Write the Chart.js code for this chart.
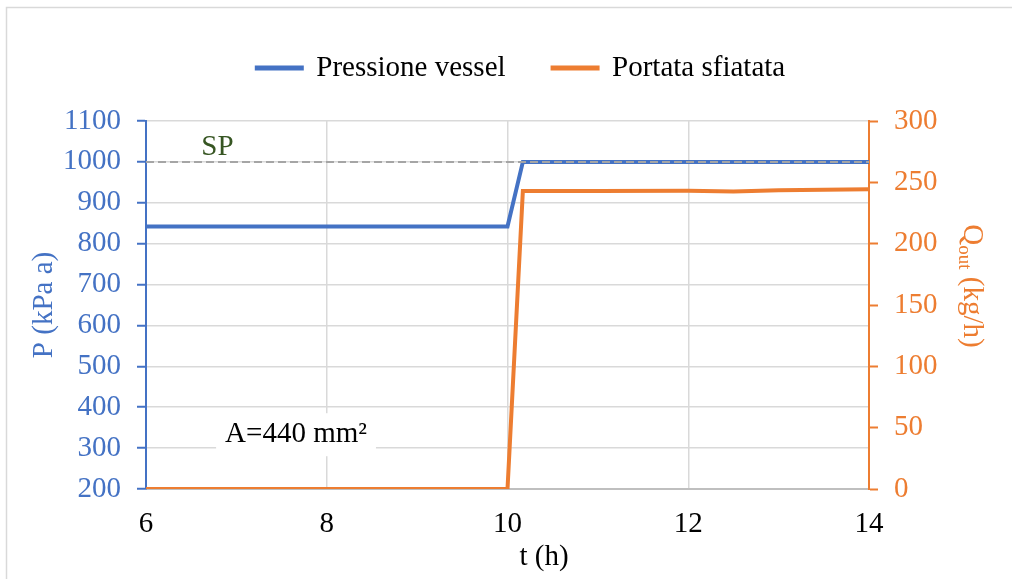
<!DOCTYPE html>
<html>
<head>
<meta charset="utf-8">
<script src="https://cdn.jsdelivr.net/npm/chart.js@4"></script>
<style>
  html, body { margin: 0; padding: 0; background: #fff; }
  #graph { display: block; }
</style>
</head>
<body>
<canvas id="graph" width="1012" height="579"></canvas>
<script>
// values
const tHours   = [6, 10, 10.17, 11, 12, 12.5, 13, 14];
const pressure = [842, 842, 1000, 1000, 1000, 1000, 1000, 1000];
const flowOut  = [0, 0, 243, 243, 243.2, 242.5, 243.6, 244.3];
const setPoint = 1000;
const tRange = [6, 14];
const pRange = [200, 1100];
const qRange = [0, 300];

const seriesNames = ['Pressione vessel', 'Portata sfiatata'];
const spLabel = 'SP';
const areaLabel = 'A=440 mm\u00b2';

const SERIF = "'Liberation Serif', 'Times New Roman', serif";
const BLUE = '#4472C4';
const ORANGE = '#ED7D31';
const GRID = '#D9D9D9';

Chart.defaults.font.family = SERIF;
Chart.defaults.color = '#000';

const font = { size: 29, lineHeight: 1.2 };
const plain = v => String(v);

const extras = {
  id: 'extras',
  beforeLayout(chart) {
    const lg = chart.legend;
    if (lg && !lg._patched) {
      const fit = lg.fit;
      lg.fit = function () { fit.call(this); this.height = 114.5; };
      lg._patched = true;
    }
  },
  beforeDraw(chart) {
    const ctx = chart.ctx;
    ctx.save();
    ctx.strokeStyle = GRID;
    ctx.lineWidth = 1.5;
    ctx.strokeRect(6.5, 7.5, 1100, 700);
    ctx.restore();
  },
  beforeDatasetsDraw(chart) {
    const { ctx, scales: { x, y } } = chart;
    ctx.save();
    ctx.font = '29px ' + SERIF;
    ctx.textAlign = 'center';
    ctx.textBaseline = 'middle';
    // SP label
    ctx.fillStyle = '#375623';
    ctx.fillText(spLabel, x.getPixelForValue(6.79), y.getPixelForValue(1036));
    // area label with white box
    const cx = x.getPixelForValue(7.66);
    const cy = y.getPixelForValue(334);
    const w = ctx.measureText(areaLabel).width + 18;
    ctx.fillStyle = '#fff';
    ctx.fillRect(cx - w / 2, cy - 21, w, 43);
    ctx.fillStyle = '#000';
    ctx.fillText(areaLabel, cx, cy);
    ctx.restore();
  },
  afterDraw(chart) {
    const ctx = chart.ctx;
    ctx.save();
    // x title
    ctx.font = '29px ' + SERIF;
    ctx.fillStyle = '#000';
    ctx.textAlign = 'center';
    ctx.textBaseline = 'middle';
    ctx.fillText('t (h)', 544, 557);
    // right title with subscript
    ctx.translate(972, 286);
    ctx.rotate(Math.PI / 2);
    ctx.fillStyle = ORANGE;
    ctx.textAlign = 'left';
    const big = '29px ' + SERIF, small = '19px ' + SERIF;
    ctx.font = big; const w1 = ctx.measureText('Q').width;
    ctx.font = small; const w2 = ctx.measureText('out').width;
    ctx.font = big; const w3 = ctx.measureText(' (kg/h)').width;
    let px = -(w1 + w2 + w3) / 2;
    ctx.fillText('Q', px, 0); px += w1;
    ctx.font = small; ctx.fillText('out', px, 8); px += w2;
    ctx.font = big; ctx.fillText(' (kg/h)', px, 0);
    ctx.restore();
  }
};

const ctx = document.getElementById('graph').getContext('2d');

new Chart(ctx, {
  type: 'line',
  data: {
    datasets: [
      {
        label: seriesNames[0],
        data: tHours.map((t, i) => ({ x: t, y: pressure[i] })),
        borderColor: BLUE,
        backgroundColor: BLUE,
        borderWidth: 4,
        pointRadius: 0,
        yAxisID: 'y',
        order: 1
      },
      {
        label: seriesNames[1],
        data: tHours.map((t, i) => ({ x: t, y: flowOut[i] })),
        borderColor: ORANGE,
        backgroundColor: ORANGE,
        borderWidth: 4,
        pointRadius: 0,
        yAxisID: 'y1',
        order: 2
      },
      {
        label: spLabel,
        data: [{ x: tRange[0], y: setPoint }, { x: tRange[1], y: setPoint }],
        borderColor: '#A5A5A5',
        borderWidth: 2,
        borderDash: [8, 4],
        pointRadius: 0,
        yAxisID: 'y',
        order: 0
      }
    ]
  },
  options: {
    responsive: false,
    animation: false,
    events: [],
    layout: { padding: { top: 6.5, left: 30, right: 0, bottom: 0 } },
    scales: {
      x: {
        type: 'linear',
        min: tRange[0],
        max: tRange[1],
        ticks: { stepSize: 2, color: '#000', font: font, padding: 18, callback: plain },
        grid: {
          color: c => (c.tick && (c.tick.value === tRange[0] || c.tick.value === tRange[1])) ? 'rgba(0,0,0,0)' : GRID,
          lineWidth: 1.5,
          drawTicks: false
        },
        border: { color: '#BFBFBF', width: 2 },
        afterFit(s) { s.height = 90; }
      },
      y: {
        position: 'left',
        min: pRange[0],
        max: pRange[1],
        ticks: { stepSize: 100, color: BLUE, font: font, padding: 16, callback: plain },
        grid: { color: GRID, lineWidth: 1.5, tickColor: BLUE, tickLength: 9, tickWidth: 2 },
        border: { color: BLUE, width: 2 },
        title: { display: true, text: 'P (kPa a)', color: BLUE, font: { size: 29, lineHeight: 1 }, padding: 0 },
        afterFit(s) { s.width = 116; }
      },
      y1: {
        position: 'right',
        min: qRange[0],
        max: qRange[1],
        ticks: { stepSize: 50, color: ORANGE, font: font, padding: 16, callback: plain },
        grid: { drawOnChartArea: false, tickColor: ORANGE, tickLength: 9, tickWidth: 2 },
        border: { color: ORANGE, width: 2 },
        afterFit(s) { s.width = 143; }
      }
    },
    plugins: {
      legend: {
        position: 'top',
        labels: {
          color: '#000',
          font: { size: 29 },
          boxWidth: 45,
          boxHeight: 1,
          padding: 47,
          filter: item => item.datasetIndex < 2
        }
      },
      tooltip: { enabled: false }
    }
  },
  plugins: [extras]
});
</script>
</body>
</html>
